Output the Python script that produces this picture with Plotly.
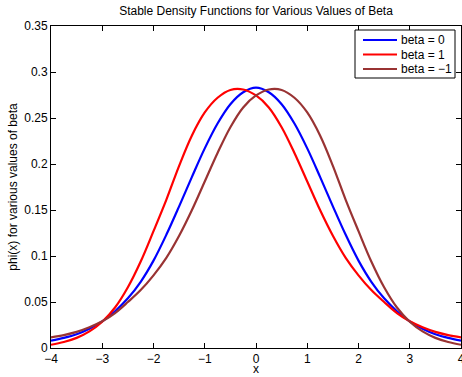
import plotly.graph_objects as go

# Sample points along x and the density read at each one
x_vals = [-4.0, -3.75, -3.5, -3.25, -3.0, -2.75, -2.5, -2.25, -2.0, -1.75, -1.5,
          -1.25, -1.0, -0.75, -0.5, -0.25, 0.0, 0.25, 0.5, 0.75, 1.0, 1.25, 1.5,
          1.75, 2.0, 2.25, 2.5, 2.75, 3.0, 3.25, 3.5, 3.75, 4.0]

phi_beta0 = [0.008, 0.011, 0.015, 0.021, 0.029, 0.040, 0.054, 0.072, 0.095, 0.123, 0.154,
             0.186, 0.217, 0.244, 0.265, 0.278, 0.283, 0.278, 0.265, 0.244, 0.217, 0.186, 0.154,
             0.123, 0.095, 0.072, 0.054, 0.040, 0.029, 0.021, 0.015, 0.011, 0.008]
phi_beta1 = [0.0035, 0.0065, 0.011, 0.018, 0.0285, 0.044, 0.066, 0.094, 0.127, 0.161, 0.198,
             0.231, 0.256, 0.272, 0.2805, 0.281, 0.2745, 0.2615, 0.240, 0.212, 0.181, 0.150, 0.122,
             0.098, 0.079, 0.063, 0.050, 0.038, 0.029, 0.0225, 0.0175, 0.014, 0.0116]
phi_betam1 = [0.0116, 0.014, 0.0175, 0.0225, 0.029, 0.038, 0.050, 0.063, 0.079, 0.098, 0.122,
              0.150, 0.181, 0.212, 0.240, 0.2615, 0.2745, 0.281, 0.2805, 0.272, 0.256, 0.231, 0.198,
              0.161, 0.127, 0.094, 0.066, 0.044, 0.0285, 0.018, 0.011, 0.0065, 0.0035]

series_names = ["beta = 0", "beta = 1", "beta = \u22121"]
series_colors = ["rgb(0,0,255)", "rgb(255,0,0)", "rgb(153,51,51)"]

x_ticks = [-4, -3, -2, -1, 0, 1, 2, 3, 4]
y_ticks = [0, 0.05, 0.1, 0.15, 0.2, 0.25, 0.3, 0.35]

FONT = "Liberation Sans, Arial, Helvetica, sans-serif"
W, H = 462, 377
ML, MR, MT, MB = 51, 1, 26, 29
PW, PH = W - ML - MR, H - MT - MB


def px_to_paper(px, py):
    return (px - ML) / PW, (H - MB - py) / PH


fig = go.Figure()
for ys, name, color in zip([phi_beta0, phi_beta1, phi_betam1], series_names, series_colors):
    fig.add_trace(go.Scatter(
        x=x_vals, y=ys, mode="lines", name=name, showlegend=False,
        line=dict(color=color, width=2.2, shape="spline", smoothing=1.0),
    ))

axis_common = dict(
    showline=True, linecolor="black", linewidth=1, mirror="ticks",
    ticks="inside", ticklen=5, tickwidth=1, tickcolor="black",
    showgrid=False, zeroline=False, automargin=False,
    tickfont=dict(family=FONT, size=12, color="black"),
)

fig.update_xaxes(range=[-4, 4], tickvals=x_ticks, ticklabeloverflow="allow", **axis_common)
fig.update_yaxes(
    range=[0, 0.35], tickvals=y_ticks, **axis_common,
    title=dict(text="phi(x) for various values of beta",
               font=dict(family=FONT, size=12, color="black"), standoff=4),
)

shapes = []
annotations = []

# x-axis label at the bottom edge, below the tick labels
xl_x, xl_y = px_to_paper(256, 377)
annotations.append(dict(text="x", xref="paper", yref="paper", x=xl_x, y=xl_y,
                        xanchor="center", yanchor="bottom", showarrow=False, borderpad=0,
                        font=dict(family=FONT, size=12, color="black")))

# Boxed legend in the upper right corner
bx0, by0 = px_to_paper(355, 78)
bx1, by1 = px_to_paper(455, 30)
shapes.append(dict(type="rect", xref="paper", yref="paper", x0=bx0, y0=by0, x1=bx1, y1=by1,
                   line=dict(color="black", width=1), fillcolor="white", layer="above"))
for i, (name, color) in enumerate(zip(series_names, series_colors)):
    row_y = 40 + i * 14.5
    lx0, ly = px_to_paper(363, row_y)
    lx1, _ = px_to_paper(397, row_y)
    shapes.append(dict(type="line", xref="paper", yref="paper", x0=lx0, x1=lx1, y0=ly, y1=ly,
                       line=dict(color=color, width=2.2), layer="above"))
    tx, _ = px_to_paper(399, row_y)
    annotations.append(dict(text=name, xref="paper", yref="paper", x=tx, y=ly,
                            xanchor="left", yanchor="middle", showarrow=False,
                            font=dict(family=FONT, size=12, color="black")))

fig.update_layout(
    width=W, height=H,
    margin=dict(l=ML, r=MR, t=MT, b=MB),
    paper_bgcolor="white", plot_bgcolor="white",
    title=dict(text="Stable Density Functions for Various Values of Beta",
               font=dict(family=FONT, size=12, color="black"),
               x=(256 / W), xanchor="center", y=1 - 11 / H, yanchor="middle"),
    shapes=shapes, annotations=annotations,
    showlegend=False,
)

fig.write_html("out.html")
